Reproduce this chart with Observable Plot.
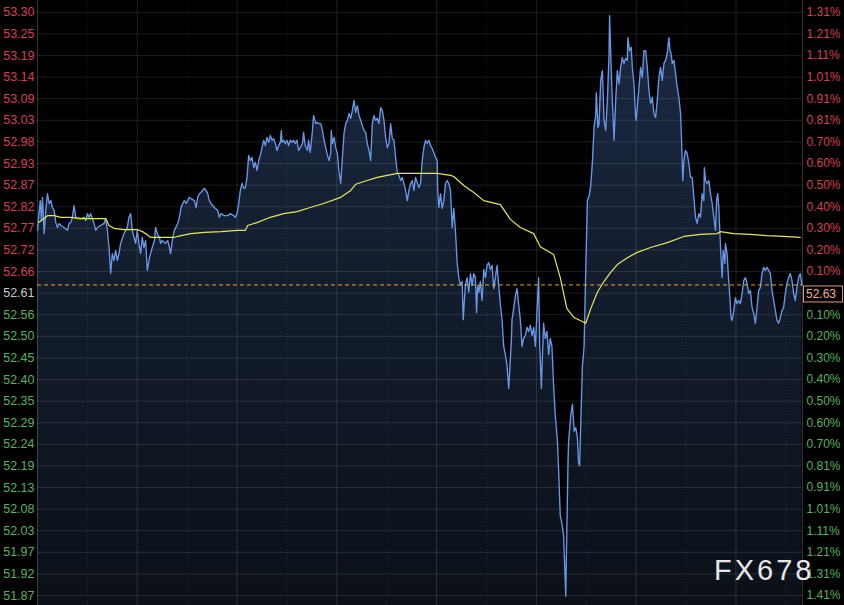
<!DOCTYPE html>
<html><head><meta charset="utf-8">
<script src="https://cdn.jsdelivr.net/npm/d3@7"></script>
<script src="https://cdn.jsdelivr.net/npm/@observablehq/plot@0.6"></script>
<style>html,body{margin:0;padding:0;background:#000;overflow:hidden}</style>
</head><body><div id="chart"></div>
<script>
// ---- data ----
const priceLabels = ["53.30","53.25","53.19","53.14","53.09","53.03","52.98","52.93","52.87","52.82","52.77","52.72","52.66","52.61","52.56","52.50","52.45","52.40","52.35","52.29","52.24","52.19","52.13","52.08","52.03","51.97","51.92","51.87"];
const pctLabels = ["1.31%","1.21%","1.11%","1.01%","0.91%","0.81%","0.70%","0.60%","0.50%","0.40%","0.30%","0.20%","0.10%","","0.10%","0.20%","0.30%","0.40%","0.50%","0.60%","0.70%","0.81%","0.91%","1.01%","1.11%","1.21%","1.31%","1.41%"];
const baseClose = 52.61;     // previous close (centre row)
const tickStep = 0.053;      // price step between rows
const lastPrice = 52.63;
const sessionMinutes = [0, 1380];
const gridTimes = [180, 360, 540, 720, 900, 1080, 1260];
const midTimes = [90, 270, 450, 630, 810, 990, 1170, 1350];
const yDomain = [51.8435, 53.328];

// [minute, price]
const priceSeries = [[0,52.764],[5,52.837],[7,52.788],[9,52.845],[12,52.756],[15,52.813],[18,52.854],[21,52.830],[24,52.837],[27,52.820],[30,52.813],[33,52.783],[36,52.771],[39,52.781],[42,52.776],[48,52.771],[54,52.764],[57,52.781],[60,52.783],[63,52.796],[66,52.825],[69,52.796],[72,52.793],[78,52.793],[84,52.796],[87,52.788],[90,52.805],[93,52.796],[96,52.805],[99,52.793],[102,52.781],[105,52.764],[108,52.771],[114,52.776],[120,52.781],[123,52.793],[126,52.764],[129,52.722],[132,52.658],[135,52.707],[138,52.690],[141,52.715],[144,52.690],[147,52.707],[150,52.732],[156,52.756],[162,52.771],[165,52.796],[168,52.805],[171,52.764],[174,52.747],[177,52.732],[180,52.764],[183,52.732],[186,52.707],[189,52.747],[192,52.722],[195,52.739],[198,52.666],[202,52.697],[204,52.707],[207,52.722],[211,52.739],[213,52.771],[216,52.756],[220,52.747],[222,52.732],[225,52.739],[229,52.734],[231,52.732],[235,52.739],[238,52.722],[240,52.707],[244,52.747],[247,52.764],[253,52.781],[256,52.796],[259,52.820],[262,52.830],[265,52.837],[268,52.830],[271,52.837],[274,52.845],[277,52.842],[283,52.837],[286,52.820],[289,52.845],[292,52.854],[295,52.857],[298,52.862],[301,52.867],[304,52.862],[307,52.854],[310,52.837],[313,52.830],[316,52.825],[319,52.820],[325,52.813],[328,52.796],[331,52.805],[337,52.800],[343,52.800],
[348,52.805],[354,52.800],[357,52.796],[360,52.805],[363,52.830],[366,52.862],[369,52.879],[372,52.867],[375,52.869],[378,52.894],[381,52.948],[384,52.935],[387,52.943],[390,52.918],[393,52.931],[396,52.911],[399,52.935],[402,52.948],[405,52.967],[408,52.985],[411,52.972],[414,52.992],[417,52.980],[420,52.997],[423,52.985],[426,52.989],[429,52.977],[432,52.960],[435,52.972],[438,52.980],[440,53.009],[441,52.980],[444,52.985],[447,52.977],[450,52.985],[453,52.972],[456,52.985],[459,52.980],[462,52.985],[465,52.977],[468,52.985],[471,52.960],[474,52.967],[478,52.977],[480,53.004],[483,52.972],[487,52.960],[489,52.985],[492,52.955],[496,53.009],[498,53.046],[502,53.026],[505,53.029],[507,53.026],[511,53.026],[514,53.009],[516,52.992],[520,52.967],[523,52.948],[526,52.935],[529,52.955],[530,53.009],[532,52.977],[535,52.992],[538,52.967],[541,52.953],[544,52.906],[547,52.879],[550,52.943],[553,53.002],[556,53.026],[559,53.034],[562,53.051],[565,53.039],[568,53.058],[571,53.083],[574,53.053],[577,53.070],[580,53.046],[583,53.034],[586,53.021],[589,53.009],[592,53.004],[595,52.977],[598,52.960],[601,52.935],[604,53.026],[607,53.046],[610,53.034],[613,53.039],[616,53.026],[619,53.065],[622,53.058],[625,53.034],[628,52.992],[631,52.967],[634,52.977],[637,53.026],[640,52.989],[643,52.985],[646,52.943],[649,52.906],[652,52.899],[655,52.886],[658,52.894],[661,52.879],[664,52.862],[667,52.837],[670,52.862],[673,52.879],[676,52.886],[679,52.862],[682,52.894],[685,52.881],[688,52.869],[691,52.879],[694,52.935],[697,52.967],[700,52.985],[703,52.977],[706,52.985],[709,52.972],[712,52.965],[715,52.955],[718,52.943],[721,52.935],[722,52.862],[724,52.820],[727,52.854],[730,52.818],[733,52.837],[736,52.879],[739,52.886],[742,52.879],[745,52.862],
[748,52.771],[751,52.818],[754,52.761],[757,52.685],[760,52.648],[763,52.629],[766,52.639],[768,52.545],[770,52.592],[772,52.629],[775,52.648],[778,52.612],[781,52.658],[784,52.629],[787,52.658],[790,52.648],[792,52.562],[794,52.629],[796,52.612],[799,52.639],[802,52.592],[805,52.668],[808,52.648],[811,52.678],[814,52.685],[817,52.668],[820,52.678],[823,52.621],[826,52.648],[829,52.678],[832,52.629],[835,52.582],[838,52.545],[841,52.479],[844,52.459],[847,52.432],[850,52.376],[852,52.423],[855,52.499],[856,52.545],[859,52.572],[862,52.602],[865,52.621],[868,52.582],[871,52.545],[874,52.479],[877,52.499],[880,52.506],[883,52.526],[886,52.516],[889,52.531],[892,52.506],[895,52.526],[898,52.479],[901,52.562],[904,52.648],[906,52.479],[909,52.376],[910,52.423],[913,52.536],[916,52.499],[919,52.516],[922,52.459],[925,52.499],[928,52.479],[931,52.383],[934,52.310],[938,52.244],[940,52.177],[943,52.064],[946,52.045],[949,52.015],[953,51.866],[954,51.959],[957,52.194],[958,52.244],[962,52.310],[965,52.337],[968,52.271],[971,52.280],[974,52.253],[976,52.194],[978,52.187],[981,52.337],[983,52.432],[986,52.479],[989,52.668],[992,52.837],[995,52.847],[998,52.874],[1001,52.931],[1004,53.016],[1007,53.046],[1008,53.102],[1011,53.016],[1013,53.026],[1016,53.132],[1019,53.156],[1022,53.034],[1025,53.009],[1028,53.083],[1031,53.193],[1032,53.291],[1035,53.156],[1037,53.083],[1040,52.985],[1043,53.083],[1046,53.156],[1049,53.124],[1052,53.164],[1055,53.188],[1058,53.173],[1061,53.186],[1064,53.181],[1065,53.237],[1068,53.205],[1071,53.213],[1073,53.164],[1076,53.124],[1079,53.041],[1080,53.034],[1083,53.083],[1085,53.115],[1088,53.164],[1091,53.139],[1094,53.205],[1097,53.205],[1100,53.164],[1103,53.107],[1106,53.075],[1109,53.090],[1112,53.051],[1115,53.041],[1118,53.083],[1121,53.139],[1124,53.164],[1127,53.132],[1130,53.173],[1133,53.181],[1136,53.198],[1139,53.237],[1141,53.205],[1143,53.198],[1145,53.173],[1148,53.181],[1151,53.149],[1154,53.115],[1157,53.090],[1160,53.051],[1162,52.977],[1164,52.886],[1166,52.935],[1169,52.960],[1172,52.953],[1175,52.928],[1178,52.894],[1181,52.894],[1184,52.845],[1187,52.796],[1190,52.781],[1193,52.805],[1196,52.796],[1199,52.854],[1202,52.837],[1203,52.918],[1205,52.886],[1208,52.879],[1211,52.886],[1214,52.854],[1217,52.830],[1220,52.796],[1223,52.764],[1225,52.837],[1227,52.854],[1229,52.820],[1231,52.756],[1233,52.697],[1235,52.648],[1237,52.715],[1240,52.683],[1241,52.732],[1244,52.707],[1246,52.658],[1249,52.599],[1251,52.550],[1253,52.543],[1256,52.567],[1259,52.599],[1262,52.584],[1265,52.592],[1268,52.584],[1271,52.609],[1274,52.641],[1277,52.648],[1280,52.634],[1283,52.609],[1286,52.616],[1289,52.575],[1292,52.560],[1295,52.536],[1298,52.575],[1301,52.616],[1304,52.624],[1307,52.658],[1310,52.673],[1313,52.666],[1316,52.673],[1319,52.666],[1322,52.658],[1325,52.616],[1328,52.592],[1331,52.567],[1334,52.543],[1337,52.536],[1340,52.550],[1343,52.567],[1346,52.575],[1349,52.609],[1352,52.634],[1355,52.648],[1358,52.658],[1361,52.641],[1364,52.609],[1367,52.592],[1370,52.624],[1373,52.648],[1376,52.658],[1379,52.630]];

// average price line [minute, price]
const avgSeries = [[3,52.784],[18,52.800],[30,52.800],[42,52.796],[60,52.796],[78,52.793],[102,52.793],[123,52.793],[129,52.776],[138,52.769],[156,52.766],[180,52.766],[192,52.759],[204,52.747],[229,52.747],[247,52.747],[259,52.751],[277,52.756],[301,52.759],[331,52.761],[361,52.764],[375,52.764],[379,52.776],[396,52.783],[420,52.796],[444,52.805],[468,52.810],[492,52.820],[516,52.830],[547,52.845],[565,52.862],[574,52.877],[589,52.884],[613,52.894],[631,52.899],[649,52.904],[685,52.904],[721,52.904],[745,52.899],[751,52.896],[769,52.874],[787,52.857],[805,52.837],[835,52.827],[853,52.791],[871,52.771],[895,52.756],[907,52.724],[931,52.705],[943,52.648],[955,52.572],[968,52.550],[989,52.536],[998,52.572],[1010,52.612],[1022,52.639],[1034,52.661],[1046,52.680],[1064,52.697],[1082,52.710],[1106,52.722],[1136,52.734],[1166,52.749],[1196,52.754],[1226,52.756],[1232,52.761],[1256,52.756],[1286,52.754],[1316,52.751],[1346,52.749],[1376,52.747]];

// ---- build ----
const rows = priceLabels.map((label, i) => ({
  label, pct: pctLabels[i], v: baseClose + (13 - i) * tickStep,
  side: i < 13 ? "up" : i === 13 ? "base" : "down"
}));
const px = priceSeries.map(([t, p]) => ({t, p}));
const av = avgSeries.map(([t, p]) => ({t, p}));

const RED = "#d8404f", GREEN = "#55b35d", GRAY = "#c8c8c8";
const FONT = "Arial, 'Liberation Sans', sans-serif";

const plot = Plot.plot({
  width: 844, height: 605,
  marginLeft: 37, marginRight: 42, marginTop: 0, marginBottom: 0,
  style: {background: "#000", fontFamily: FONT, overflow: "hidden"},
  x: {domain: sessionMinutes, axis: null},
  y: {domain: yDomain, axis: null},
  marks: [
    Plot.areaY(px, {x: "t", y1: yDomain[0], y2: "p", fill: "url(#areaGrad)", curve: "linear"}),
    Plot.ruleY(rows, {y: "v", stroke: "#ffffff", strokeOpacity: 0.11}),
    Plot.ruleX(midTimes, {stroke: "#ffffff", strokeOpacity: 0.09, strokeDasharray: "1,2"}),
    Plot.ruleX(gridTimes, {stroke: "#ffffff", strokeOpacity: 0.12}),
    Plot.ruleX(sessionMinutes, {stroke: "#ffffff", strokeOpacity: 0.2}),
    Plot.line(px, {x: "t", y: "p", stroke: "#6798e8", strokeWidth: 1.35}),
    Plot.line(av, {x: "t", y: "p", stroke: "#e6e65a", strokeWidth: 1.2}),
    Plot.ruleY([lastPrice], {stroke: "#e3a13c", strokeWidth: 1, strokeDasharray: "4,3"}),
    Plot.text(rows.filter(d => d.side === "up"), {y: "v", text: "label", frameAnchor: "left", textAnchor: "end", dx: -3, fill: RED, fontSize: 12.5}),
    Plot.text(rows.filter(d => d.side === "base"), {y: "v", text: "label", frameAnchor: "left", textAnchor: "end", dx: -3, fill: GRAY, fontSize: 12.5}),
    Plot.text(rows.filter(d => d.side === "down"), {y: "v", text: "label", frameAnchor: "left", textAnchor: "end", dx: -3, fill: GREEN, fontSize: 12.5}),
    Plot.text(rows.filter(d => d.side === "up"), {y: "v", text: "pct", frameAnchor: "right", textAnchor: "start", dx: 4, fill: RED, fontSize: 12}),
    Plot.text(rows.filter(d => d.side === "down"), {y: "v", text: "pct", frameAnchor: "right", textAnchor: "start", dx: 4, fill: GREEN, fontSize: 12})
  ]
});

const svg = d3.select(plot);
svg.insert("defs", ":first-child").html(
  `<linearGradient id="areaGrad" gradientUnits="userSpaceOnUse" x1="0" y1="0" x2="0" y2="605">
     <stop offset="0" stop-color="#1c2a44"/>
     <stop offset="0.45" stop-color="#131d2e"/>
     <stop offset="1" stop-color="#0b1018"/>
   </linearGradient>`);

const xr = plot.scale("x").range;
const yl = plot.scale("y").apply(lastPrice);
const box = svg.append("g");
box.append("rect").attr("x", xr[1] + 1.5).attr("y", yl + 1.5).attr("width", 39).attr("height", 16)
  .attr("fill", "#000").attr("stroke", "#e0987a").attr("stroke-width", 1);
box.append("text").attr("x", xr[1] + 4).attr("y", yl + 9.5).attr("dy", "0.35em")
  .attr("text-anchor", "start")
  .attr("fill", "#f0b394").attr("font-size", 12).attr("font-family", FONT).text(lastPrice.toFixed(2));

svg.append("text").attr("x", 714).attr("y", 580).attr("text-anchor", "start")
  .attr("font-size", 29).attr("letter-spacing", 3).attr("font-family", FONT)
  .attr("fill", "#e8e8e8").text("FX678");

document.getElementById("chart").appendChild(plot);
</script>
</body></html>
